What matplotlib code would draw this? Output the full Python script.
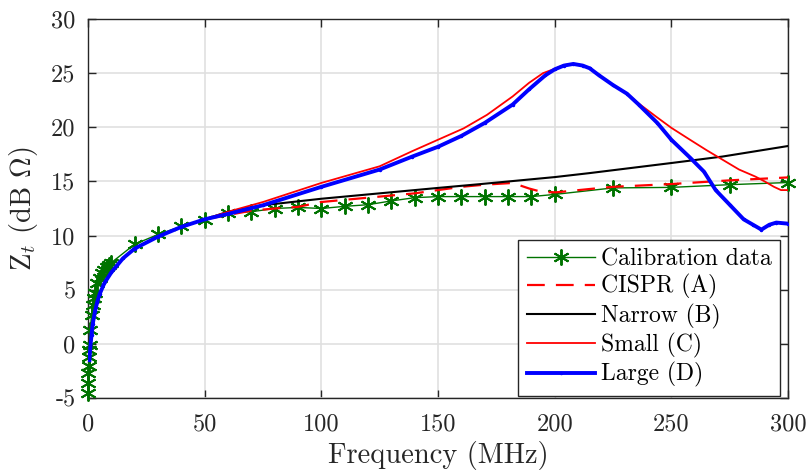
import matplotlib
matplotlib.use("Agg")
import matplotlib.pyplot as plt

plt.rcParams['font.family'] = 'serif'
plt.rcParams['font.serif'] = ['cmr10', 'DejaVu Serif']
plt.rcParams['mathtext.fontset'] = 'cm'
plt.rcParams['axes.unicode_minus'] = False

# Calibration data
cal_f = [0.1, 0.15, 0.2, 0.3, 0.4, 0.5, 0.7, 1, 1.5, 2, 2.5, 3, 4, 5, 6, 7, 8, 9, 10,
         20, 30, 40, 50, 60, 70, 80, 90, 100, 110, 120, 130, 140, 150, 160, 170, 180,
         190, 200, 225, 250, 275, 300]
cal_v = [-4.5, -3.6, -2.7, -2.0, -1.2, -0.6, -0.1, 1.3, 2.7, 3.6, 4.2, 4.7, 5.6, 6.1, 6.5, 6.8, 7.1, 7.3, 7.5,
         9.2, 10.1, 10.85, 11.45, 12.1, 12.2, 12.5, 12.6, 12.5, 12.7, 12.85, 13.2, 13.5, 13.6, 13.6, 13.6, 13.6,
         13.6, 13.8, 14.4, 14.45, 14.7, 14.9]

# CISPR (A)
a_f = [0.6, 1, 1.5, 2, 3, 4, 5, 7, 10, 15, 20, 30, 40, 50, 60, 70, 80, 90, 100, 110, 120, 130,
       140, 150, 160, 170, 182, 189, 195, 201, 215, 225, 250, 275, 300]
a_v = [-1.5, -0.3, 0.8, 1.8, 3.0, 3.9, 4.6, 5.6, 6.6, 7.9, 8.8, 9.9, 10.8, 11.5, 11.9, 12.3, 12.5, 12.65, 13.1, 13.3, 13.5, 13.7,
       13.9, 14.2, 14.5, 14.7, 14.86, 14.35, 14.0, 14.0, 14.3, 14.5, 14.76, 15.1, 15.37]

# Narrow (B)
b_f = [0.6, 1, 1.5, 2, 3, 4, 5, 7, 10, 15, 20, 30, 40, 50, 60, 75, 100, 125, 150, 168, 200, 215, 250, 272, 300]
b_v = [-1.5, -0.3, 0.8, 1.8, 3.0, 3.9, 4.6, 5.6, 6.6, 7.9, 8.8, 9.9, 10.8, 11.5, 12.2, 12.8, 13.4, 13.9, 14.4, 14.75,
       15.4, 15.77, 16.7, 17.3, 18.27]

# Small (C)
c_f = [0.6, 1, 1.5, 2, 3, 4, 5, 7, 10, 15, 20, 30, 40, 50, 60, 75, 100, 125, 139, 150, 161, 171, 182, 189, 195,
       200, 204, 208, 212, 215, 219, 225, 231, 236, 244, 250, 258, 265, 272, 279, 286, 290, 294, 297, 300]
c_v = [-1.5, -0.3, 0.8, 1.8, 3.0, 3.9, 4.6, 5.6, 6.6, 7.9, 8.8, 9.9, 10.8, 11.5, 12.2, 13.1, 14.86, 16.4, 17.8, 18.85,
       19.9, 21.15, 22.85, 24.1, 25.0, 25.4, 25.75, 25.85, 25.7, 25.45, 24.8, 23.9, 23.1, 22.2, 20.9, 19.95, 18.85,
       17.9, 17.0, 16.1, 15.45, 15.0, 14.5, 14.2, 14.2]

# Large (D)
d_f = [0.6, 1, 1.5, 2, 3, 4, 5, 7, 10, 15, 20, 30, 40, 50, 60, 75, 100, 125, 139, 150, 160, 170, 182, 189, 196,
       200, 204, 208, 212, 215, 219, 225, 231, 236, 244, 250, 258, 264, 269, 275, 281, 285, 288.6, 292, 295, 300]
d_v = [-1.5, -0.3, 0.8, 1.8, 3.0, 3.9, 4.6, 5.6, 6.6, 7.9, 8.8, 9.9, 10.8, 11.5, 12.0, 12.8, 14.5, 16.1, 17.3, 18.2,
       19.2, 20.4, 22.1, 23.5, 24.8, 25.35, 25.7, 25.85, 25.7, 25.45, 24.8, 23.9, 23.1, 22.1, 20.4, 18.85, 17.2,
       15.9, 14.2, 12.85, 11.5, 11.0, 10.55, 11.0, 11.2, 11.1]

x_ticks = [0, 50, 100, 150, 200, 250, 300]
y_ticks = [-5, 0, 5, 10, 15, 20, 25, 30]
y_ticklabels = ['-5', '0', '5', '10', '15', '20', '25', '30']

fig = plt.figure(figsize=(8.1, 4.75), dpi=100)
ax = fig.add_axes([88/810, 1-398/475, 700/810, 379/475])

green = (0, 0.45, 0)
ax.plot(cal_f, cal_v, color=green, lw=1.0, marker=(6, 2, 0), markersize=11.5,
        markeredgewidth=1.4, label='Calibration data', clip_on=False, zorder=3)
ax.plot(a_f, a_v, color='red', lw=1.6, ls=(0, (8, 5)), label='CISPR (A)', zorder=4)
ax.plot(b_f, b_v, color='black', lw=1.5, label='Narrow (B)', zorder=4)
ax.plot(c_f, c_v, color='red', lw=1.3, label='Small (C)', zorder=5)
ax.plot(d_f, d_v, color='blue', lw=2.8, marker='.', markersize=3, label='Large (D)', zorder=6)

ax.set_xlim(0, 300)
ax.set_ylim(-5, 30)
ax.set_xticks(x_ticks)
ax.set_xticklabels([str(t) for t in x_ticks])
ax.set_yticks(y_ticks)
ax.set_yticklabels(y_ticklabels)
ax.tick_params(direction='in', top=True, right=True, length=6, width=1.0,
               labelsize=17.5, colors='#262626')
ax.tick_params(axis='x', pad=11)
ax.tick_params(axis='y', pad=9)
ax.grid(True, color='#e0e0e0', lw=1.2)
ax.set_axisbelow(True)
for s in ax.spines.values():
    s.set_color('#262626')
    s.set_linewidth(1.0)

ax.set_xlabel('Frequency (MHz)', fontsize=20.5, color='#262626', labelpad=4)
ax.set_ylabel(r'Z$_t$ (dB $\Omega$)', fontsize=20.5, color='#262626', labelpad=8)

leg = ax.legend(loc='lower right', bbox_to_anchor=(0.9886, 0.006), borderaxespad=0,
                fontsize=17, frameon=True, fancybox=False,
                edgecolor='#262626', framealpha=1, handlelength=2.9, handletextpad=0.25,
                labelspacing=0.18, borderpad=0.35)
leg.get_frame().set_linewidth(1.0)

fig.savefig('out.png', dpi=100)
